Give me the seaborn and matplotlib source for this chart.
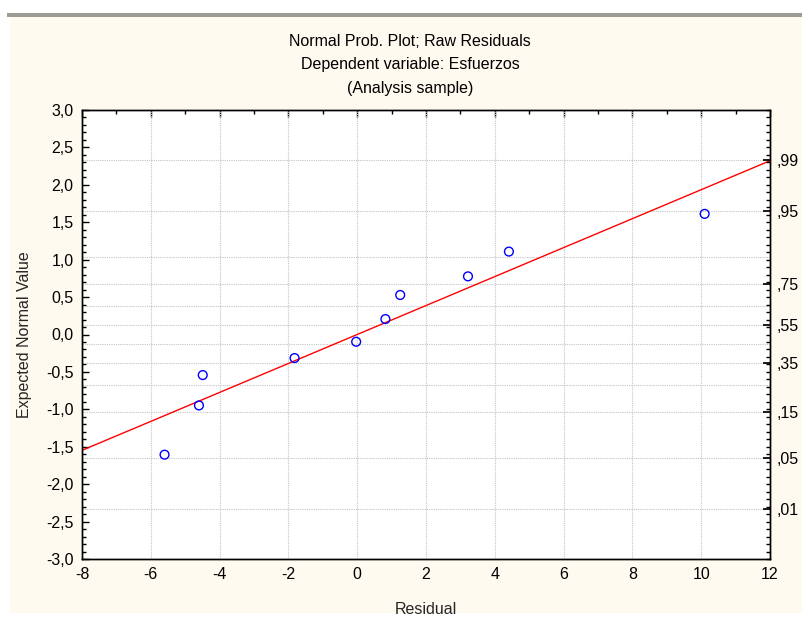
import matplotlib
matplotlib.use("Agg")
import matplotlib.pyplot as plt
from matplotlib.patches import Rectangle
from matplotlib.ticker import MultipleLocator, FixedLocator
from statistics import NormalDist
import pandas as pd
import seaborn as sns

# Raw residuals and their expected normal values
residuals = [-5.60, -4.60, -4.49, -1.82, -0.03, 0.82, 1.25, 3.22, 4.41, 10.10]
expected_normal = [-1.606, -0.948, -0.542, -0.315, -0.097, 0.206, 0.528, 0.777, 1.108, 1.612]

# Reference line (expected = slope * residual + intercept)
line_slope = 0.1935
line_intercept = 0.0
line_x = [-8, 12]

# Axis ticks
x_ticks = [-8, -6, -4, -2, 0, 2, 4, 6, 8, 10, 12]
y_ticks = [-3.0, -2.5, -2.0, -1.5, -1.0, -0.5, 0.0, 0.5, 1.0, 1.5, 2.0, 2.5, 3.0]
grid_probs = [0.01, 0.05, 0.15, 0.25, 0.35, 0.45, 0.55, 0.65, 0.75, 0.85, 0.95, 0.99]
labeled_probs = [0.01, 0.05, 0.15, 0.35, 0.55, 0.75, 0.95, 0.99]
prob_labels = [",01", ",05", ",15", ",35", ",55", ",75", ",95", ",99"]

title_lines = ["Normal Prob. Plot; Raw Residuals",
               "Dependent variable: Esfuerzos",
               "(Analysis sample)"]

sns.set_theme(style="white")
plt.rcParams["font.family"] = ["Liberation Sans", "DejaVu Sans"]
plt.rcParams["axes.linewidth"] = 1.0

FS = 11.5
W, H = 803, 617
fig = plt.figure(figsize=(W / 100, H / 100), dpi=100, facecolor="white")

# Cream panel and grey header bar
fig.patches.append(Rectangle((10 / W, (H - 613) / H), (W - 10) / W, (613 - 17) / H,
                             transform=fig.transFigure, facecolor="#FEFAEF",
                             edgecolor="none", zorder=-10))
fig.patches.append(Rectangle((7 / W, (H - 17) / H), (W - 7) / W, 4.5 / H,
                             transform=fig.transFigure, facecolor="#9C9C94",
                             edgecolor="none", zorder=-10))

left, right, top, bottom = 82, 770, 110, 559
ax = fig.add_axes([left / W, (H - bottom) / H, (right - left) / W, (bottom - top) / H])
ax.set_facecolor("white")

df = pd.DataFrame({"Residual": residuals, "Expected": expected_normal})
line_df = pd.DataFrame({"x": line_x,
                        "y": [line_slope * v + line_intercept for v in line_x]})

sns.lineplot(data=line_df, x="x", y="y", ax=ax, color="#FF0000", linewidth=1.0,
             zorder=3)
sns.scatterplot(data=df, x="Residual", y="Expected", ax=ax, marker="o", s=40,
                facecolor="none", edgecolor="#0000FF", linewidth=1.0, zorder=4)

ax.set_xlim(-8, 12)
ax.set_ylim(-3, 3)

# Grid: vertical at major x ticks, horizontal at normal probability levels
for xv in x_ticks[1:-1]:
    ax.axvline(xv, color="#C4C4C4", linestyle=(0, (1, 1)), linewidth=0.8, zorder=1)
nd = NormalDist()
for p in grid_probs:
    ax.axhline(nd.inv_cdf(p), color="#C4C4C4", linestyle=(0, (1, 1)),
               linewidth=0.8, zorder=1)


def comma(v):
    return f"{v:.1f}".replace(".", ",")


ax.xaxis.set_major_locator(FixedLocator(x_ticks))
ax.xaxis.set_minor_locator(MultipleLocator(1))
ax.set_xticklabels([f"{v:g}" for v in x_ticks])
ax.yaxis.set_major_locator(FixedLocator(y_ticks))
ax.yaxis.set_minor_locator(MultipleLocator(0.1))
ax.set_yticklabels([comma(v) for v in y_ticks])

ax.tick_params(axis="both", which="both", direction="in", colors="black",
               labelsize=FS, top=True, right=False)
ax.tick_params(axis="both", which="major", length=5, width=1, pad=6)
ax.tick_params(axis="both", which="minor", length=3, width=1)
for s in ax.spines.values():
    s.set_color("black")
    s.set_linewidth(1.0)

ax.set_xlabel("Residual", fontsize=FS, labelpad=14)
ax.set_ylabel("Expected Normal Value", fontsize=FS, labelpad=10)

# Right axis: cumulative probabilities
ax2 = ax.twinx()
ax2.set_ylim(-3, 3)
ax2.yaxis.set_major_locator(FixedLocator([nd.inv_cdf(p) for p in labeled_probs]))
ax2.set_yticklabels(prob_labels)
ax2.yaxis.set_minor_locator(MultipleLocator(0.1))
ax2.tick_params(axis="y", which="both", direction="in", labelsize=FS, colors="black")
ax2.tick_params(axis="y", which="major", length=5, pad=5)
ax2.tick_params(axis="y", which="minor", length=3)
ax2.grid(False)
for s in ax2.spines.values():
    s.set_color("black")

for i, t in enumerate(title_lines):
    fig.text(410 / W, 1 - (41 + 24 * i) / H, t, ha="center", va="center",
             fontsize=FS, color="black")

fig.savefig("out.png", dpi=100, facecolor=fig.get_facecolor())
